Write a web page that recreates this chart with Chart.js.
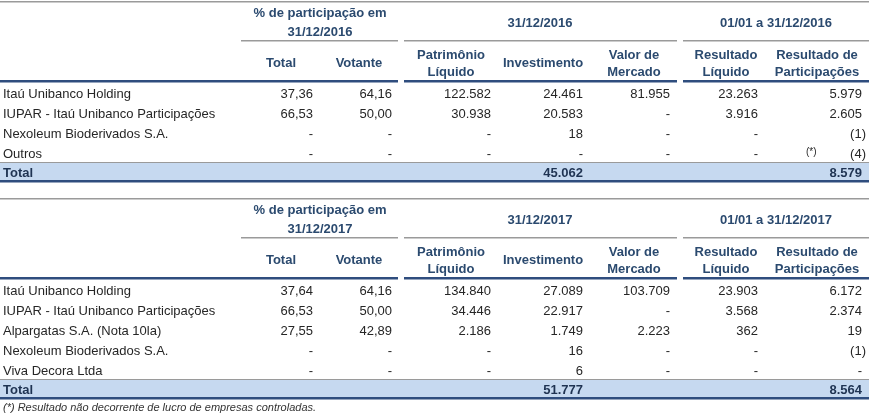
<!DOCTYPE html>
<html>
<head>
<meta charset="utf-8">
<script src="https://cdn.jsdelivr.net/npm/chart.js@4/dist/chart.umd.min.js"></script>
<style>
  html, body { margin: 0; padding: 0; background: #fff; }
  canvas { display: block; }
</style>
</head>
<body>
<canvas id="tabela" width="869" height="416"></canvas>
<script>
// ---------- dados ----------
var companies2016 = ['Itaú Unibanco Holding', 'IUPAR - Itaú Unibanco Participações', 'Nexoleum Bioderivados S.A.', 'Outros'];
var pctTotal2016 = [37.36, 66.53, null, null];
var pctVotante2016 = [64.16, 50.00, null, null];
var patrimonio2016 = [122582, 30938, null, null];
var investimento2016 = [24461, 20583, 18, null];
var valorMercado2016 = [81955, null, null, null];
var resultadoLiquido2016 = [23263, 3916, null, null];
var resultadoPart2016 = [5979, 2605, -1, -4];
var totalInvestimento2016 = 45062;
var totalResultadoPart2016 = 8579;

var companies2017 = ['Itaú Unibanco Holding', 'IUPAR - Itaú Unibanco Participações', 'Alpargatas S.A. (Nota 10la)', 'Nexoleum Bioderivados S.A.', 'Viva Decora Ltda'];
var pctTotal2017 = [37.64, 66.53, 27.55, null, null];
var pctVotante2017 = [64.16, 50.00, 42.89, null, null];
var patrimonio2017 = [134840, 34446, 2186, null, null];
var investimento2017 = [27089, 22917, 1749, 16, 6];
var valorMercado2017 = [103709, null, 2223, null, null];
var resultadoLiquido2017 = [23903, 3568, 362, null, null];
var resultadoPart2017 = [6172, 2374, 19, -1, null];
var totalInvestimento2017 = 51777;
var totalResultadoPart2017 = 8564;

var columnHeaders = [['Total'], ['Votante'], ['Patrimônio', 'Líquido'], ['Investimento'], ['Valor de', 'Mercado'], ['Resultado', 'Líquido'], ['Resultado de', 'Participações']];
var footnote = '(*) Resultado não decorrente de lucro de empresas controladas.';

// ---------- layout ----------
var W = 869, H = 416;
var colRight = [313, 392, 491, 583, 670, 758, 862];
var colCenter = [281, 359, 451, 543, 634, 726, 817];
var groups = [[241, 398], [404, 677], [683, 869]];
var HEAD = '#2b4a6f', TXT = '#262626', BLUE = '#2f4d7e', GRAY = '#9a9a9a', BAND = '#c6d9f0';
var FONT = 'Arial, "Liberation Sans", sans-serif';

function fmtInt(v) {
  if (v === null) return '-';
  var s = String(Math.abs(v)).replace(/\B(?=(\d{3})+(?!\d))/g, '.');
  return v < 0 ? '(' + s + ')' : s;
}
function fmtPct(v) {
  return v === null ? '-' : v.toFixed(2).replace('.', ',');
}

var tables = [
  {
    off: 0, year: '2016', companies: companies2016, mark: 3,
    cols: [pctTotal2016.map(fmtPct), pctVotante2016.map(fmtPct), patrimonio2016.map(fmtInt), investimento2016.map(fmtInt),
           valorMercado2016.map(fmtInt), resultadoLiquido2016.map(fmtInt), resultadoPart2016.map(fmtInt)],
    totals: { 3: fmtInt(totalInvestimento2016), 6: fmtInt(totalResultadoPart2016) }
  },
  {
    off: 197, year: '2017', companies: companies2017, mark: -1,
    cols: [pctTotal2017.map(fmtPct), pctVotante2017.map(fmtPct), patrimonio2017.map(fmtInt), investimento2017.map(fmtInt),
           valorMercado2017.map(fmtInt), resultadoLiquido2017.map(fmtInt), resultadoPart2017.map(fmtInt)],
    totals: { 3: fmtInt(totalInvestimento2017), 6: fmtInt(totalResultadoPart2017) }
  }
];

var tablePlugin = {
  id: 'tablePlugin',
  afterDraw: function (chart) {
    var ctx = chart.ctx;
    var sx = chart.scales.x, sy = chart.scales.y;
    var px = function (v) { return sx.getPixelForValue(v); };
    var py = function (v) { return sy.getPixelForValue(v); };
    function hline(x0, x1, y, h, color) {
      ctx.fillStyle = color;
      ctx.fillRect(px(x0), py(y), px(x1) - px(x0), h);
    }
    function text(s, x, y, align, font, color) {
      ctx.font = font;
      ctx.fillStyle = color;
      ctx.textAlign = align;
      ctx.textBaseline = 'alphabetic';
      ctx.fillText(s, px(x), py(y));
    }
    ctx.save();
    tables.forEach(function (t) {
      var o = t.off;
      var n = t.companies.length;
      var bold = 'bold 13px ' + FONT, reg = '13px ' + FONT;
      // linhas do cabeçalho
      hline(0, W, o + 1, 1.5, GRAY);
      groups.forEach(function (g) { hline(g[0], g[1], o + 40, 1.5, GRAY); });
      hline(0, 398, o + 80, 2.5, BLUE);
      hline(404, 677, o + 80, 2.5, BLUE);
      hline(683, W, o + 80, 2.5, BLUE);
      // cabeçalhos de grupo
      text('% de participação em', 320, o + 17, 'center', bold, HEAD);
      text('31/12/' + t.year, 320, o + 36, 'center', bold, HEAD);
      text('31/12/' + t.year, 540, o + 27, 'center', bold, HEAD);
      text('01/01 a 31/12/' + t.year, 776, o + 27, 'center', bold, HEAD);
      // cabeçalhos de coluna
      columnHeaders.forEach(function (lines, c) {
        if (lines.length === 1) {
          text(lines[0], colCenter[c], o + 67, 'center', bold, HEAD);
        } else {
          text(lines[0], colCenter[c], o + 58.5, 'center', bold, HEAD);
          text(lines[1], colCenter[c], o + 75.5, 'center', bold, HEAD);
        }
      });
      // linhas de dados
      t.companies.forEach(function (name, r) {
        var y = o + 98 + 20 * r;
        text(name, 3, y, 'left', reg, TXT);
        t.cols.forEach(function (col, c) {
          var s = col[r];
          var right = colRight[c] + (s.charAt(0) === '(' ? 4 : 0);
          text(s, right, y, 'right', reg, TXT);
        });
        if (r === t.mark) text('(*)', 806, y - 3, 'left', '10px ' + FONT, TXT);
      });
      // total
      var ty = o + 102 + 20 * (n - 1);
      hline(0, W, ty, 18, BAND);
      hline(0, W, ty, 1, GRAY);
      hline(0, W, ty + 18, 2.5, BLUE);
      text('Total', 3, ty + 15, 'left', bold, '#1f3352');
      Object.keys(t.totals).forEach(function (c) {
        text(t.totals[c], colRight[c], ty + 15, 'right', bold, '#1f3352');
      });
    });
    text(footnote, 3, 411, 'left', 'italic 11px ' + FONT, '#333333');
    ctx.restore();
  }
};

new Chart(document.getElementById('tabela'), {
  type: 'scatter',
  data: { datasets: [] },
  options: {
    responsive: false,
    animation: false,
    layout: { padding: 0 },
    plugins: { legend: { display: false }, tooltip: { enabled: false } },
    scales: {
      x: { type: 'linear', min: 0, max: W, display: false },
      y: { type: 'linear', min: 0, max: H, reverse: true, display: false }
    }
  },
  plugins: [tablePlugin]
});
</script>
</body>
</html>
